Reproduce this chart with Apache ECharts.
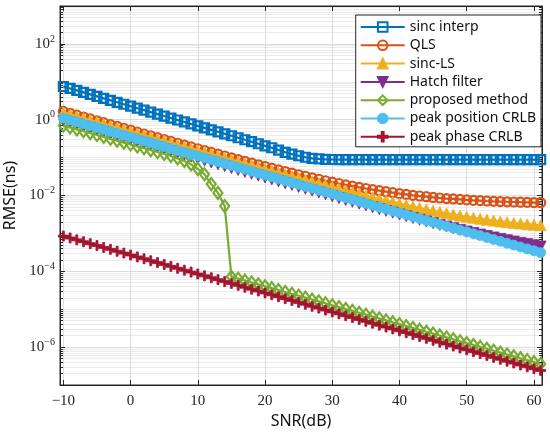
<!DOCTYPE html>
<html><head><meta charset="utf-8">
<script src="https://cdn.jsdelivr.net/npm/echarts@6/dist/echarts.min.js"></script>
<style>html,body{margin:0;padding:0;background:#fff}#c{width:550px;height:437px}</style>
</head><body><div id="c"></div>
<script>
const snr = [-10,-9,-8,-7,-6,-5,-4,-3,-2,-1,0,1,2,3,4,5,6,7,8,9,10,11,12,13,14,15,16,17,18,19,20,21,22,23,24,25,26,27,28,29,30,31,32,33,34,35,36,37,38,39,40,41,42,43,44,45,46,47,48,49,50,51,52,53,54,55,56,57,58,59,60,61];

const sincInterp = [7.52,6.67,5.92,5.25,4.66,4.13,3.66,3.25,2.88,2.56,
2.27,2.01,1.79,1.585,1.406,1.247,1.107,0.982,0.871,0.773,
0.686,0.608,0.540,0.479,0.425,0.377,0.334,0.296,0.263,0.232,
0.204,0.182,0.158,0.138,0.123,0.112,0.102,0.0955,0.0923,0.0902,
0.0891,0.0888,0.0887,0.0887,0.0886,0.0886,0.0886,0.0886,0.0886,0.0886,
0.0886,0.0886,0.0886,0.0886,0.0886,0.0886,0.0886,0.0886,0.0886,0.0886,
0.0886,0.0886,0.0886,0.0886,0.0886,0.0886,0.0886,0.0886,0.0886,0.0886,
0.0886,0.0886];

const qls = [1.656,1.477,1.317,1.174,1.047,0.934,0.833,0.743,0.663,0.591,
0.528,0.471,0.420,0.375,0.335,0.299,0.268,0.239,0.214,0.191,
0.171,0.1531,0.1371,0.1228,0.1101,0.0988,0.0887,0.0797,0.0717,0.0645,
0.0582,0.0525,0.0474,0.0429,0.0389,0.0353,0.0322,0.0293,0.0268,0.0245,
0.0225,0.0207,0.0191,0.0177,0.0164,0.0153,0.0143,0.0134,0.0126,0.0119,
0.0112,0.0107,0.0101,0.0097,0.0093,0.0089,0.0086,0.0083,0.0081,0.0079,
0.00765,0.00747,0.00731,0.00717,0.00704,0.00693,0.00683,0.00674,0.00666,0.00659,
0.00652,0.00647];

const sincLS = [1.55,1.382,1.232,1.098,0.979,0.873,0.778,0.693,0.618,0.551,
0.491,0.438,0.390,0.348,0.310,0.277,0.247,0.220,0.196,0.175,
0.1562,0.1393,0.1243,0.1109,0.0990,0.0884,0.0789,0.0704,0.0629,0.0562,
0.0502,0.0449,0.0401,0.0359,0.0321,0.0288,0.0258,0.0231,0.0207,0.0186,
0.0167,0.0150,0.0135,0.0122,0.0110,0.0099,0.0090,0.0081,0.0074,0.0067,
0.0061,0.00557,0.00509,0.00467,0.00429,0.00396,0.00366,0.00339,0.00315,0.00294,
0.00275,0.00258,0.00243,0.00230,0.00218,0.00207,0.00198,0.00189,0.00182,0.00175,
0.00169,0.00164];

const hatch = [0.935,0.833,0.743,0.662,0.590,0.526,0.469,0.418,0.372,0.332,
0.296,0.263,0.235,0.209,0.187,0.166,0.148,0.132,0.118,0.105,
0.0937,0.0835,0.0745,0.0664,0.0592,0.0528,0.0471,0.0420,0.0374,0.0334,
0.0298,0.0265,0.0237,0.0211,0.0189,0.0168,0.0150,0.0134,0.0120,0.0107,
0.00954,0.00852,0.00762,0.00681,0.00609,0.00545,0.00488,0.00437,0.00391,0.00351,
0.00315,0.00282,0.00254,0.00228,0.00206,0.00185,0.00167,0.00151,0.00137,0.00124,
0.001125,0.001023,0.000933,0.000852,0.00078,0.000716,0.000659,0.000608,0.000562,0.000522,
0.000486,0.000453];

const proposed = [0.70,0.624,0.556,0.496,0.442,0.394,0.351,0.313,0.279,0.248,
0.221,0.197,0.176,0.157,0.140,0.1245,0.110,0.0955,0.0813,0.0661,
0.0501,0.0363,0.0200,0.0117,0.00525,7.17e-5,6.39e-5,5.70e-5,5.08e-5,4.52e-5,
4.03e-5,3.59e-5,3.20e-5,2.85e-5,2.54e-5,2.27e-5,2.02e-5,1.80e-5,1.61e-5,1.43e-5,
1.275e-5,1.136e-5,1.013e-5,9.03e-6,8.04e-6,7.17e-6,6.39e-6,5.70e-6,5.08e-6,4.52e-6,
4.03e-6,3.59e-6,3.20e-6,2.85e-6,2.54e-6,2.27e-6,2.02e-6,1.80e-6,1.61e-6,1.43e-6,
1.275e-6,1.136e-6,1.013e-6,9.03e-7,8.04e-7,7.17e-7,6.39e-7,5.70e-7,5.08e-7,4.52e-7,
4.03e-7,3.59e-7];

const posCRLB = [1.10,0.980,0.874,0.779,0.694,0.619,0.551,0.491,0.438,0.390,
0.348,0.310,0.276,0.246,0.219,0.196,0.174,0.155,0.138,0.123,
0.110,0.0980,0.0874,0.0779,0.0694,0.0619,0.0551,0.0491,0.0438,0.0390,
0.0348,0.0310,0.0276,0.0246,0.0219,0.0196,0.0174,0.0155,0.0138,0.0123,
0.0110,0.00980,0.00874,0.00779,0.00694,0.00619,0.00551,0.00491,0.00438,0.00390,
0.00348,0.00310,0.00276,0.00246,0.00219,0.00196,0.00174,0.00155,0.00138,0.00123,
0.00110,0.000980,0.000874,0.000779,0.000694,0.000619,0.000551,0.000491,0.000438,0.000390,
0.000348,0.000310];

const phaseCRLB = [8.50e-4,7.58e-4,6.75e-4,6.02e-4,5.36e-4,4.78e-4,4.26e-4,3.80e-4,3.38e-4,3.02e-4,
2.69e-4,2.40e-4,2.14e-4,1.90e-4,1.70e-4,1.51e-4,1.35e-4,1.20e-4,1.07e-4,9.54e-5,
8.50e-5,7.58e-5,6.75e-5,6.02e-5,5.36e-5,4.78e-5,4.26e-5,3.80e-5,3.38e-5,3.02e-5,
2.69e-5,2.40e-5,2.14e-5,1.90e-5,1.70e-5,1.51e-5,1.35e-5,1.20e-5,1.07e-5,9.54e-6,
8.50e-6,7.58e-6,6.75e-6,6.02e-6,5.36e-6,4.78e-6,4.26e-6,3.80e-6,3.38e-6,3.02e-6,
2.69e-6,2.40e-6,2.14e-6,1.90e-6,1.70e-6,1.51e-6,1.35e-6,1.20e-6,1.07e-6,9.54e-7,
8.50e-7,7.58e-7,6.75e-7,6.02e-7,5.36e-7,4.78e-7,4.26e-7,3.80e-7,3.38e-7,3.02e-7,
2.69e-7,2.40e-7];

const seriesNames = ['sinc interp','QLS','sinc-LS','Hatch filter','proposed method','peak position CRLB','peak phase CRLB'];
const xTicks = [-10,0,10,20,30,40,50,60];
const yTickLabels = [1e-6,1e-4,1e-2,1,1e2];

const AX = '#262626';
const serif = 'Liberation Serif';
const sans = 'Noto Sans';

// minor grid / tick values (2..9 x 10^n, plus odd decades)
const minorY = [];
for (let e = -7; e <= 2; e++) {
  for (let m = 1; m <= 9; m++) {
    if (m === 1 && (e % 2 === 0)) continue;
    if (m === 1 && e === -7) continue;
    minorY.push(m * Math.pow(10, e));
  }
}

const plusPath = 'path://M3.2,0H4.8V3.2H8V4.8H4.8V8H3.2V4.8H0V3.2H3.2Z';
const downTri = 'path://M0,0L10,0L5,9Z';
const defs = [
  {data: sincInterp, color:'#0072BD', symbol:'rect', size:9, hollow:true},
  {data: qls, color:'#D95319', symbol:'circle', size:9, hollow:true},
  {data: sincLS, color:'#EDB120', symbol:'triangle', size:11, hollow:false},
  {data: hatch, color:'#7E2F8E', symbol:downTri, size:11, hollow:false},
  {data: proposed, color:'#77AC30', symbol:'diamond', size:[9,12], hollow:true},
  {data: posCRLB, color:'#4DBEEE', symbol:'circle', size:10, hollow:false},
  {data: phaseCRLB, color:'#A2142F', symbol:plusPath, size:10, hollow:false}
];

const series = [];
defs.forEach((d, i) => {
  series.push({
    name: seriesNames[i], type: 'line',
    data: snr.map((x, j) => [x, d.data[j]]),
    symbol: d.symbol, symbolSize: d.size, showSymbol: true,
    lineStyle: {color: d.color, width: 2.2},
    itemStyle: d.hollow
      ? {color: 'rgba(255,255,255,0)', borderColor: d.color, borderWidth: 2.2}
      : {color: d.color, borderColor: d.color, borderWidth: 0.8},
    clip: true, animation: false, z: 2 + i
  });
});

const xLabelFmt = v => String(v).replace('-', '\u2212');
const yLabelFmt = v => {
  const e = Math.round(Math.log10(v));
  const s = e < 0 ? '\u2212' + (-e) : '' + e;
  return '{b|10}{s|' + s + '}';
};

const minorAxis = (pos) => ({
  type: 'log', logBase: 10, min: 1e-7, max: 1e3, position: pos,
  axisLine: {show: false, onZero: false},
  axisTick: {show: true, inside: true, length: 3, customValues: minorY, lineStyle: {color: AX}},
  axisLabel: {show: false, customValues: minorY},
  splitLine: {show: pos === 'left', lineStyle: {color: '#ebebeb', width: 1}}
});

const chart = echarts.init(document.getElementById('c'), null, {renderer: 'canvas'});
chart.setOption({
  animation: false,
  backgroundColor: '#fff',
  grid: {left: 60, right: 8, top: 6, bottom: 52, outerBoundsMode: 'none', show: true, borderColor: AX, borderWidth: 1, backgroundColor: '#fff'},
  legend: {
    data: seriesNames, orient: 'vertical', right: 9, top: 15,
    backgroundColor: '#fff', borderColor: AX, borderWidth: 1, borderRadius: 0,
    padding: [4, 5, 2, 4], itemGap: 2.3, itemWidth: 44, itemHeight: 12,
    textStyle: {fontFamily: sans, fontSize: 14, color: '#111', lineHeight: 16},
    selectedMode: false
  },
  xAxis: [{
    type: 'value', min: -10.5, max: 61.2, position: 'bottom',
    name: 'SNR(dB)', nameLocation: 'middle', nameGap: 22,
    nameTextStyle: {fontFamily: sans, fontSize: 16, color: '#111'},
    axisLine: {show: true, onZero: false, lineStyle: {color: AX, width: 1}},
    axisTick: {show: true, inside: true, length: 5, customValues: xTicks, lineStyle: {color: AX}},
    axisLabel: {customValues: xTicks, formatter: xLabelFmt, fontFamily: serif, fontSize: 15, color: '#262626', margin: 9},
    splitLine: {show: true, lineStyle: {color: '#dcdcdc', width: 1}}
  }, {
    type: 'value', min: -10.5, max: 61.2, position: 'top',
    axisLine: {show: true, onZero: false, lineStyle: {color: AX, width: 1}},
    axisTick: {show: true, inside: true, length: 5, customValues: xTicks, lineStyle: {color: AX}},
    axisLabel: {show: false, customValues: xTicks},
    splitLine: {show: false}
  }],
  yAxis: [{
    type: 'log', logBase: 10, min: 1e-7, max: 1e3, position: 'left',
    name: 'RMSE(ns)', nameLocation: 'middle', nameGap: 38, nameRotate: 90,
    nameTextStyle: {fontFamily: sans, fontSize: 16, color: '#111'},
    axisLine: {show: true, onZero: false, lineStyle: {color: AX, width: 1}},
    axisTick: {show: true, inside: true, length: 5, customValues: yTickLabels, lineStyle: {color: AX}},
    axisLabel: {
      customValues: yTickLabels, formatter: yLabelFmt, margin: 5,
      rich: {
        b: {fontFamily: serif, fontSize: 15, color: '#262626', lineHeight: 20},
        s: {fontFamily: serif, fontSize: 10, color: '#262626', lineHeight: 10, padding: [0, 0, 10, 0]}
      }
    },
    splitLine: {show: true, lineStyle: {color: '#dcdcdc', width: 1}}
  }, {
    type: 'log', logBase: 10, min: 1e-7, max: 1e3, position: 'right',
    axisLine: {show: true, onZero: false, lineStyle: {color: AX, width: 1}},
    axisTick: {show: true, inside: true, length: 5, customValues: yTickLabels, lineStyle: {color: AX}},
    axisLabel: {show: false, customValues: yTickLabels},
    splitLine: {show: false}
  }, minorAxis('left'), minorAxis('right')],
  series: series
});
</script>
</body></html>
